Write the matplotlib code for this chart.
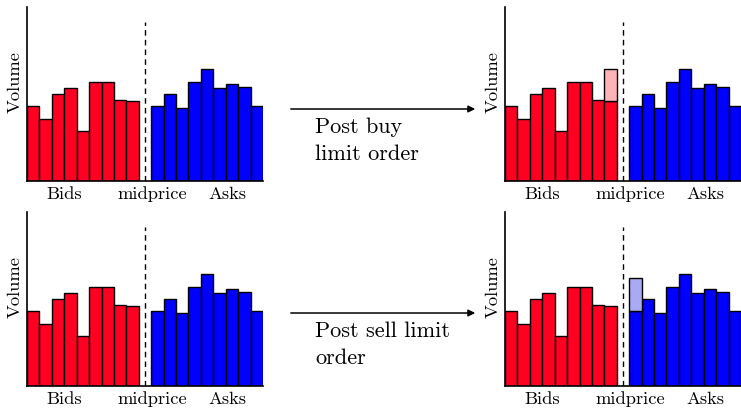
import matplotlib
matplotlib.use('Agg')
import matplotlib.pyplot as plt
import numpy as np

plt.rcParams['font.family'] = 'cmr10'
plt.rcParams['mathtext.fontset'] = 'cm'
plt.rcParams['axes.formatter.use_mathtext'] = True

# order book volumes (bids left of midprice, asks right)
bids = [6.0, 5.0, 7.0, 7.5, 4.0, 8.0, 8.0, 6.5, 6.4]
asks = [6.0, 7.0, 5.85, 8.0, 9.0, 7.5, 7.8, 7.6, 6.0]
buy_order = 2.6    # added on best bid
sell_order = 2.7   # added on best ask
side_labels = ['Bids', 'midprice', 'Asks']
label_pos = [2.5, 9.55, 15.6]
texts = [['Post buy', 'limit order'], ['Post sell limit', 'order']]

W, H = 741, 408
RED = '#ff0022'
BLUE = '#0000ff'
FS = 13.3
FS_ARROW = 16


def px_axes(fig, left, top, right, bottom):
    return fig.add_axes([left / W, 1 - bottom / H, (right - left) / W, (bottom - top) / H])


def book(ax, extra=None):
    xb = np.arange(len(bids))
    xa = np.arange(len(asks)) + len(bids) + 1
    ax.bar(xb, bids, width=1, color=RED, edgecolor='black', linewidth=1)
    ax.bar(xa, asks, width=1, color=BLUE, edgecolor='black', linewidth=1)
    if extra == 'buy':
        ax.bar(xb[-1], buy_order, bottom=bids[-1], width=1, color='#ffb3b8',
               edgecolor='black', linewidth=1)
    elif extra == 'sell':
        ax.bar(xa[0], sell_order, bottom=asks[0], width=1, color='#aaaaf2',
               edgecolor='black', linewidth=1)
    mid = len(bids)
    ax.plot([mid, mid], [0, 12.8], color='black', linestyle=(0, (4, 3)), linewidth=1)
    ax.set_xlim(-0.5, len(bids) + len(asks) + 0.5)
    ax.set_ylim(0, 14)
    ax.spines['top'].set_visible(False)
    ax.spines['right'].set_visible(False)
    ax.spines['left'].set_linewidth(1.2)
    ax.spines['bottom'].set_linewidth(1.2)
    ax.set_xticks([])
    ax.set_yticks([])
    ax.patch.set_alpha(0)
    trans = ax.get_xaxis_transform()
    for lab, xp in zip(side_labels, label_pos):
        ax.text(xp, -0.105, lab, transform=trans, ha='center', va='baseline', fontsize=FS)
    ax.text(-0.052, 0.57, 'Volume', transform=ax.transAxes, rotation=90,
            ha='center', va='center', fontsize=FS)


fig = plt.figure(figsize=(W / 100, H / 100), dpi=100)

ax1 = px_axes(fig, 27, 7, 263, 181)
book(ax1)
ax2 = px_axes(fig, 505, 7, 741, 181)
book(ax2, 'buy')
ax3 = px_axes(fig, 27, 212, 263, 386)
book(ax3)
ax4 = px_axes(fig, 505, 212, 741, 386)
book(ax4, 'sell')

for ya, lines in zip([109, 313], texts):
    fig.add_artist(matplotlib.patches.FancyArrowPatch(
        (288 / W, 1 - ya / H), (478 / W, 1 - ya / H), transform=fig.transFigure,
        arrowstyle='-|>', mutation_scale=10, color='black', linewidth=1.1))
    for k, line in enumerate(lines):
        fig.text(315 / W, 1 - (ya + 24 + 27 * k) / H, line, ha='left', va='baseline',
                 fontsize=FS_ARROW)

fig.savefig('out.png', dpi=100)
